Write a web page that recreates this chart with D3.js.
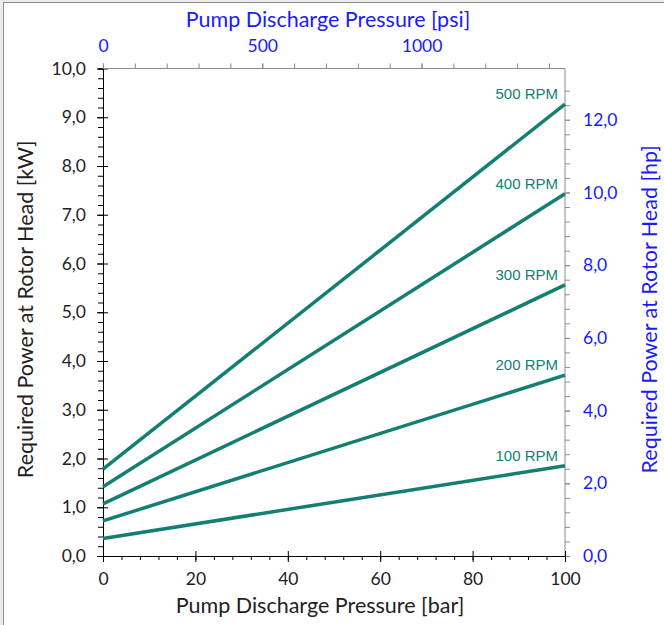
<!DOCTYPE html>
<html>
<head>
<meta charset="utf-8">
<script src="https://cdn.jsdelivr.net/npm/d3@7"></script>
<style>
  body { margin: 0; background: #ececec; }
  svg { display: block; }
</style>
</head>
<body>
<div id="chart"></div>
<script>
// Chart values
const rpmLabels = ['100 RPM', '200 RPM', '300 RPM', '400 RPM', '500 RPM'];
const pressureBar = [0, 100];
const powerAt0 = [0.36, 0.72, 1.07, 1.42, 1.78];
const powerAt100 = [1.85, 3.71, 5.56, 7.43, 9.27];

const kwTicks = [0, 1, 2, 3, 4, 5, 6, 7, 8, 9, 10];
const hpTicks = [0, 2, 4, 6, 8, 10, 12];
const barTicks = [0, 20, 40, 60, 80, 100];
const psiTicks = [0, 500, 1000];

const KW_PER_HP = 0.7457;
const PSI_PER_BAR = 14.5038;

const W = 664, H = 625;
const margin = { top: 68.5, right: 99, bottom: 69, left: 103 };
const width = W - margin.left - margin.right;
const height = H - margin.top - margin.bottom;
const lineColor = '#137f71';
const blue = '#1a1aff';
const font = 'Lato, "Open Sans", sans-serif';
const tickSize = 17.5;
const titleSize = 21.5;

const svg = d3.select('#chart')
  .append('svg')
  .attr('width', W)
  .attr('height', H);

// outer chart frame
svg.append('rect')
  .attr('x', 3.5).attr('y', 2.5)
  .attr('width', W + 10).attr('height', H + 10)
  .attr('fill', '#fff')
  .attr('stroke', '#8c8c8c');

const g = svg.append('g')
  .attr('transform', `translate(${margin.left},${margin.top})`);

// scales
const x = d3.scaleLinear().domain([0, 100]).range([0, width]);
const y = d3.scaleLinear().domain([0, 10]).range([height, 0]);
const xPsi = d3.scaleLinear().domain([0, 100 * PSI_PER_BAR]).range([0, width]);
const yHp = d3.scaleLinear().domain([0, 10 / KW_PER_HP]).range([height, 0]);

const fmt = d => d.toFixed(1).replace('.', ',');

function styleAxis(sel, color, labelColor) {
  sel.selectAll('path').attr('stroke', color);
  sel.selectAll('line').attr('stroke', color);
  sel.selectAll('text')
    .attr('fill', labelColor)
    .style('font-family', font)
    .style('font-size', tickSize + 'px');
}

// left axis (kW): minor ticks outward, major ticks crossing
g.append('g')
  .call(d3.axisLeft(y).tickValues(d3.range(0, 10.01, 0.2)).tickSize(5).tickFormat(''))
  .call(s => styleAxis(s, '#000', '#000'));
g.append('g')
  .call(d3.axisLeft(y).tickValues(kwTicks).tickSize(6).tickPadding(11).tickFormat(fmt))
  .call(s => s.select('.domain').remove())
  .call(s => styleAxis(s, '#000', '#222'));
g.append('g')
  .call(d3.axisRight(y).tickValues(kwTicks).tickSize(5).tickFormat(''))
  .call(s => s.select('.domain').remove())
  .call(s => styleAxis(s, '#000', '#000'));

// right axis (hp)
g.append('g')
  .attr('transform', `translate(${width},0)`)
  .call(d3.axisRight(yHp).tickValues(d3.range(0, 13.2, 0.4)).tickSize(5).tickFormat(''))
  .call(s => s.select('.domain').attr('d', `M0,0V${height}`))
  .call(s => styleAxis(s, '#8c8c8c', blue));
g.append('g')
  .attr('transform', `translate(${width},0)`)
  .call(d3.axisRight(yHp).tickValues(hpTicks).tickSize(5).tickPadding(13).tickFormat(fmt))
  .call(s => s.select('.domain').remove())
  .call(s => styleAxis(s, '#8c8c8c', blue));

// top axis (psi)
g.append('g')
  .call(d3.axisTop(xPsi).tickValues(d3.range(0, 1450, 100)).tickSize(5).tickFormat(''))
  .call(s => s.select('.domain').attr('d', `M0,0H${width}`))
  .call(s => styleAxis(s, '#8c8c8c', blue));
g.append('g')
  .call(d3.axisTop(xPsi).tickValues(psiTicks).tickSize(5).tickPadding(12).tickFormat(d3.format('d')))
  .call(s => s.select('.domain').remove())
  .call(s => styleAxis(s, '#8c8c8c', blue));

// bottom axis (bar)
g.append('g')
  .attr('transform', `translate(0,${height})`)
  .call(d3.axisBottom(x).tickValues(d3.range(0, 100.1, 4)).tickSize(4).tickFormat(''))
  .call(s => styleAxis(s, '#000', '#000'));
g.append('g')
  .attr('transform', `translate(0,${height})`)
  .call(d3.axisBottom(x).tickValues(barTicks).tickSize(6).tickPadding(11).tickFormat(d3.format('d')))
  .call(s => s.select('.domain').remove())
  .call(s => styleAxis(s, '#000', '#222'));
g.append('g')
  .attr('transform', `translate(0,${height})`)
  .call(d3.axisTop(x).tickValues(barTicks).tickSize(5).tickFormat(''))
  .call(s => s.select('.domain').remove())
  .call(s => styleAxis(s, '#000', '#000'));

// lines
const series = rpmLabels.map((name, i) => ({
  name,
  values: pressureBar.map((p, j) => ({ p, kw: j === 0 ? powerAt0[i] : powerAt100[i] }))
}));

const line = d3.line()
  .x(d => x(d.p))
  .y(d => y(d.kw));

g.selectAll('.rpm-line')
  .data(series)
  .join('path')
  .attr('class', 'rpm-line')
  .attr('fill', 'none')
  .attr('stroke', lineColor)
  .attr('stroke-width', 3.5)
  .attr('d', d => line(d.values));

g.selectAll('.rpm-label')
  .data(series)
  .join('text')
  .attr('class', 'rpm-label')
  .attr('x', x(100) - 7)
  .attr('y', d => y(d.values[1].kw) - 5)
  .attr('text-anchor', 'end')
  .attr('fill', lineColor)
  .style('font-family', '"Liberation Sans", Arial, sans-serif')
  .style('font-size', '15px')
  .text(d => d.name);

// axis titles
g.append('text')
  .attr('x', width / 2 - 14)
  .attr('y', height + 57)
  .attr('text-anchor', 'middle')
  .attr('fill', '#222')
  .style('font-family', font)
  .style('font-size', titleSize + 'px')
  .text('Pump Discharge Pressure [bar]');

g.append('text')
  .attr('x', width / 2 - 6)
  .attr('y', -42)
  .attr('text-anchor', 'middle')
  .attr('fill', blue)
  .style('font-family', font)
  .style('font-size', titleSize + 'px')
  .text('Pump Discharge Pressure [psi]');

g.append('text')
  .attr('transform', 'rotate(-90)')
  .attr('x', -height / 2 + 3)
  .attr('y', -margin.left + 33)
  .attr('text-anchor', 'middle')
  .attr('fill', '#222')
  .style('font-family', font)
  .style('font-size', titleSize + 'px')
  .text('Required Power at Rotor Head [kW]');

g.append('text')
  .attr('transform', 'rotate(-90)')
  .attr('x', -height / 2 + 3)
  .attr('y', width + 92)
  .attr('text-anchor', 'middle')
  .attr('fill', blue)
  .style('font-family', font)
  .style('font-size', titleSize + 'px')
  .text('Required Power at Rotor Head [hp]');
</script>
</body>
</html>
